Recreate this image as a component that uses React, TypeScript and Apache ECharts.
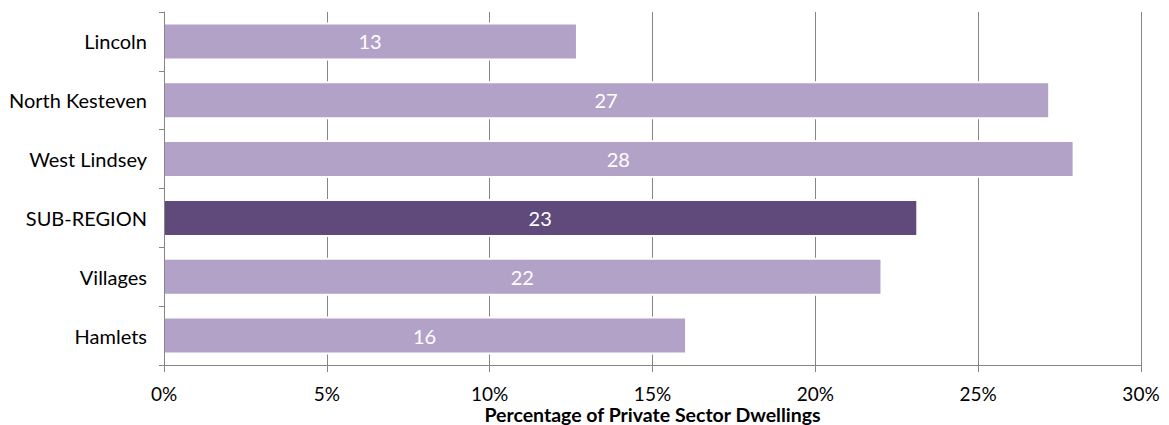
import React, { useEffect, useRef } from "react";
import * as echarts from "echarts";

const categories = ["Lincoln", "North Kesteven", "West Lindsey", "SUB-REGION", "Villages", "Hamlets"];
const values = [12.65, 27.15, 27.9, 23.1, 22.0, 16.0];
const highlight = "SUB-REGION";
const xTicks = [0, 5, 10, 15, 20, 25, 30];
const axisTitle = "Percentage of Private Sector Dwellings";

const FONT = "Lato, 'Open Sans', sans-serif";

export default function App() {
  const ref = useRef<HTMLDivElement>(null);
  useEffect(() => {
    if (!ref.current) return;
    const chart = echarts.init(ref.current, null, { renderer: "svg" });
    chart.setOption({
      animation: false,
      grid: {
        left: 164,
        right: 28,
        top: 12,
        bottom: 60,
        containLabel: false,
        outerBoundsMode: "none",
      },
      xAxis: {
        type: "value",
        min: xTicks[0],
        max: xTicks[xTicks.length - 1],
        interval: 5,
        name: axisTitle,
        nameLocation: "middle",
        nameGap: 39,
        nameMoveOverlap: false,
        nameTextStyle: {
          fontFamily: FONT,
          fontSize: 19.5,
          fontWeight: "bold",
          color: "#000",
          verticalAlign: "top",
        },
        axisLine: { show: true, lineStyle: { color: "#868686", width: 1 } },
        axisTick: { show: true, length: 7, lineStyle: { color: "#868686" } },
        axisLabel: {
          formatter: (v: number) => v + "%",
          fontFamily: FONT,
          fontSize: 19,
          lineHeight: 18,
          color: "#000",
          margin: 19,
        },
        splitLine: { show: true, lineStyle: { color: "#868686", width: 1 } },
      },
      yAxis: [
        {
          type: "category",
          data: categories,
          inverse: true,
          z: 5,
          axisLine: { show: true, lineStyle: { color: "#868686", width: 1 } },
          axisTick: { show: true, length: 5, lineStyle: { color: "#868686" } },
          axisLabel: { fontFamily: FONT, fontSize: 20, color: "#000", margin: 17 },
          splitLine: { show: false },
        },
        {
          type: "category",
          data: categories,
          inverse: true,
          show: false,
          position: "left",
        },
      ],
      series: [
        {
          type: "bar",
          yAxisIndex: 1,
          barWidth: 38,
          silent: true,
          itemStyle: { color: "#ffffff" },
          data: values,
        },
        {
          type: "bar",
          yAxisIndex: 0,
          barWidth: 34,
          data: values.map((v, i) => ({
            value: v,
            itemStyle: { color: categories[i] === highlight ? "#604A7B" : "#B3A2C7" },
          })),
          label: {
            show: true,
            position: "inside",
            formatter: (p: any) => String(Math.round(p.value)),
            color: "#fff",
            fontFamily: FONT,
            fontSize: 20,
          },
        },
      ],
    });
    return () => chart.dispose();
  }, []);
  return (
    <div
      ref={ref}
      style={{ position: "fixed", left: 0, top: 0, width: 1169, height: 425, background: "#fff" }}
    />
  );
}
